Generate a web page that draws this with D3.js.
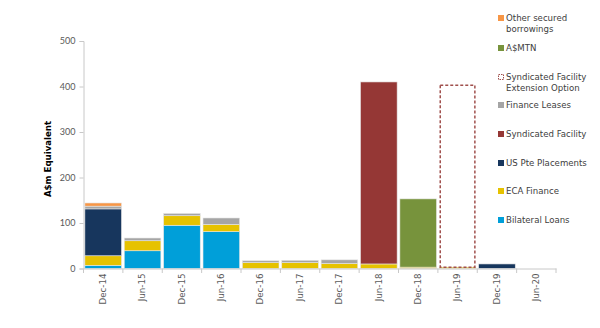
<!DOCTYPE html>
<html><head><meta charset="utf-8">
<script src="https://cdn.jsdelivr.net/npm/d3@7"></script>
<style>body{margin:0;background:#fff}svg{display:block}</style>
</head><body><svg id="c" width="600" height="328"></svg>
<script>
const categories = ["Dec-14","Jun-15","Dec-15","Jun-16","Dec-16","Jun-17","Dec-17","Jun-18","Dec-18","Jun-19","Dec-19","Jun-20"];
const bilateralLoans   = [7, 39, 95, 81, 0, 0, 0, 0, 0, 0, 0, 0];
const ecaFinance       = [21, 22, 21, 16, 13, 13, 11, 10, 3, 3, 0, 0];
const usPtePlacements  = [103, 0, 0, 0, 0, 0, 0, 0, 0, 0, 10, 0];
const syndicatedFacility = [0, 0, 0, 0, 0, 0, 0, 400, 0, 0, 0, 0];
const financeLeases    = [6, 6, 5, 14, 4, 5, 8, 0, 0, 0, 0, 0];
const asMTN            = [0, 0, 0, 0, 0, 0, 0, 0, 150, 0, 0, 0];
const otherSecured     = [7, 0, 0, 0, 0, 0, 0, 0, 0, 0, 0, 0];
const syndExtension    = [0, 0, 0, 0, 0, 0, 0, 0, 0, 400, 0, 0];
const yTicks = [0, 100, 200, 300, 400, 500];

const seriesDefs = [
  {key:"Bilateral Loans", vals:bilateralLoans, color:"#009fd9"},
  {key:"ECA Finance", vals:ecaFinance, color:"#e6c200"},
  {key:"US Pte Placements", vals:usPtePlacements, color:"#17365d"},
  {key:"Syndicated Facility", vals:syndicatedFacility, color:"#953735"},
  {key:"Finance Leases", vals:financeLeases, color:"#a5a5a5"},
  {key:"A$MTN", vals:asMTN, color:"#77933c"},
  {key:"Other secured borrowings", vals:otherSecured, color:"#f79646"},
  {key:"Syndicated Facility Extension Option", vals:syndExtension, color:"none", dashed:true}
];
const table = categories.map((c,i)=>{const o={cat:c}; seriesDefs.forEach(s=>o[s.key]=s.vals[i]); return o;});
const stacked = d3.stack().keys(seriesDefs.map(s=>s.key))(table);

const svg = d3.select("#c");
const font = "Lato, 'Open Sans', sans-serif";
const wide = "'DejaVu Sans', sans-serif";
const x = d3.scaleBand().domain(categories).range([83.5, 556]).paddingInner(0.07).paddingOuter(0.035);
const y = d3.scaleLinear().domain([0,500]).range([268.5, 41]);

// y axis
const ya = svg.append("g").attr("transform","translate(83.5,0)")
  .call(d3.axisLeft(y).tickValues(yTicks).tickSize(4).tickPadding(4));
ya.select(".domain").attr("stroke","#c8c8c8");
ya.selectAll(".tick line").attr("stroke","#c8c8c8");
ya.selectAll("text").attr("font-family",font).attr("font-size",9).attr("fill","#595959");

// bars
stacked.forEach((layer,li)=>{
  const def = seriesDefs[li];
  svg.append("g").selectAll("rect").data(layer.filter(d=>d[1]-d[0]>0)).join("rect")
    .attr("x",d=>x(d.data.cat)+(def.dashed?1:0))
    .attr("width",x.bandwidth()-(def.dashed?2:0))
    .attr("y",d=>y(d[1]))
    .attr("height",d=>y(d[0])-y(d[1]))
    .attr("fill",def.dashed?"none":def.color)
    .attr("stroke",def.dashed?"#a0504d":"#e6e6e6")
    .attr("stroke-width",def.dashed?1.5:0.6)
    .attr("stroke-dasharray",def.dashed?"3,2":null);
});

// x axis
const xa = svg.append("g").attr("transform","translate(0,268.5)")
  .call(d3.axisBottom(x).tickSize(0).tickPadding(6));
xa.select(".domain").attr("stroke","#c8c8c8");
xa.selectAll(".tick text").attr("font-family",wide).attr("font-size",8.7).attr("fill","#595959")
  .attr("transform","rotate(-90)").attr("text-anchor","end").attr("dx","-5").attr("dy","0.32em").attr("y",0);
// boundary ticks
svg.append("g").selectAll("line").data(categories).join("line")
  .attr("x1",d=>x(d)-x.step()*x.paddingInner()/2).attr("x2",d=>x(d)-x.step()*x.paddingInner()/2)
  .attr("y1",268.5).attr("y2",273).attr("stroke","#c8c8c8");
svg.append("line").attr("x1",x.range()[1]).attr("x2",x.range()[1]).attr("y1",268.5).attr("y2",273).attr("stroke","#c8c8c8");

// y title
svg.append("text").attr("transform","translate(51,159) rotate(-90)").attr("text-anchor","middle")
  .attr("font-family",wide).attr("font-size",8.6).attr("font-weight","bold").attr("fill","#000")
  .text("A$m Equivalent");

// legend
const legendItems = [
  {key:"Other secured borrowings", lines:["Other secured","borrowings"], y:18},
  {key:"A$MTN", lines:["A$MTN"], y:48},
  {key:"Syndicated Facility Extension Option", lines:["Syndicated Facility","Extension Option"], y:77},
  {key:"Finance Leases", lines:["Finance Leases"], y:105},
  {key:"Syndicated Facility", lines:["Syndicated Facility"], y:134},
  {key:"US Pte Placements", lines:["US Pte Placements"], y:163},
  {key:"ECA Finance", lines:["ECA Finance"], y:191},
  {key:"Bilateral Loans", lines:["Bilateral Loans"], y:220}
];
const lg = svg.append("g");
legendItems.forEach(it=>{
  const def = seriesDefs.find(s=>s.key===it.key);
  const g = lg.append("g").attr("transform",`translate(0,${it.y})`);
  if(def.dashed){
    g.append("rect").attr("x",498.5).attr("y",-2.5).attr("width",5).attr("height",5)
      .attr("fill","none").attr("stroke","#a0504d").attr("stroke-width",1).attr("stroke-dasharray","1.5,1");
  } else {
    g.append("rect").attr("x",498).attr("y",-3).attr("width",6).attr("height",6).attr("fill",def.color);
  }
  const t = g.append("text").attr("x",506).attr("y",0)
    .attr("font-family",wide).attr("font-size",8.6).attr("fill","#404040");
  it.lines.forEach((l,i)=>t.append("tspan").attr("x",506).attr("dy",i===0?"0.35em":"1.3em").text(l));
});
</script></body></html>
